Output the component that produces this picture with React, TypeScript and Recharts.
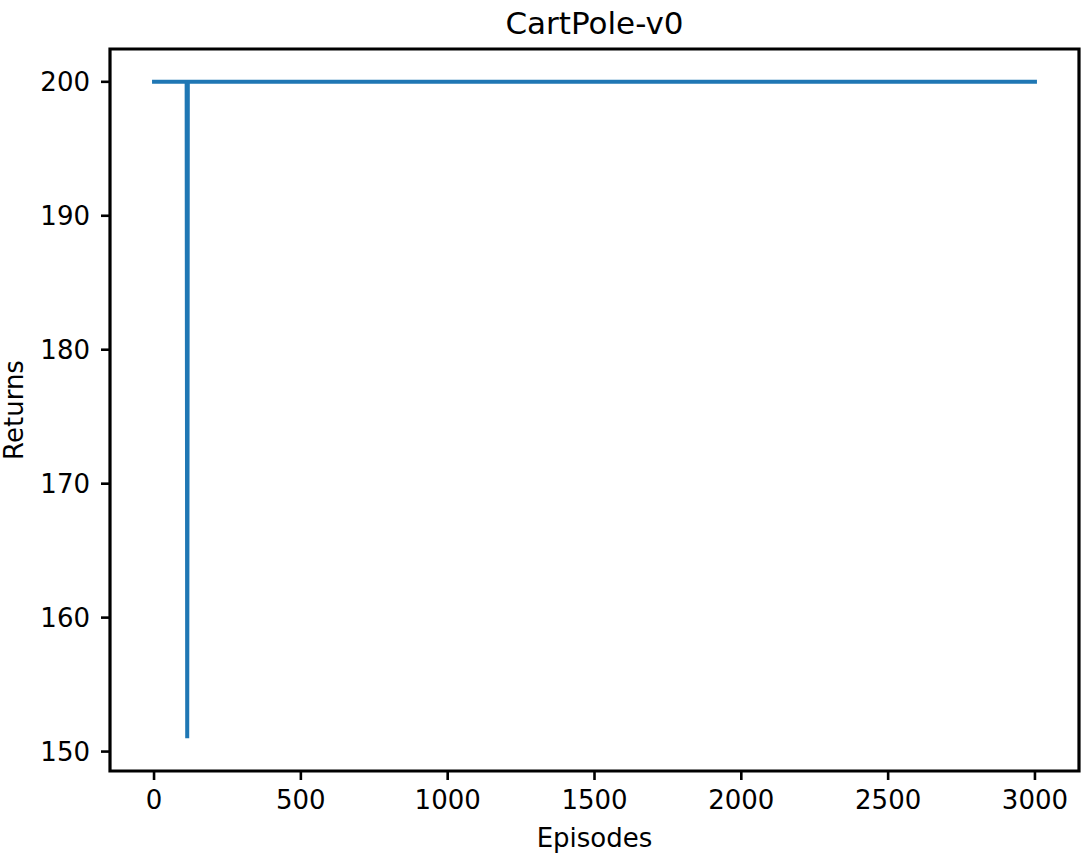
import { LineChart, Line, XAxis, YAxis, ReferenceArea } from "recharts";

const episodes = [0, 111, 112, 113, 114, 115, 3000];
const returns = [200, 200, 178.5, 151, 172.5, 200, 200];

const xTicks = [0, 500, 1000, 1500, 2000, 2500, 3000];
const yTicks = [150, 160, 170, 180, 190, 200];

const X_DOMAIN: [number, number] = [-150, 3150];
const Y_DOMAIN: [number, number] = [148.55, 202.45];

const FONT = "'DejaVu Sans', sans-serif";

const data = episodes.map((ep, i) => ({ episode: ep, value: returns[i] }));

export default function App() {
  const tickStyle = { fontSize: 26, fill: "#000", fontFamily: FONT };
  return (
    <div style={{ position: "absolute", left: 0, top: 0, width: 1090, height: 854, background: "#fff" }}>
      <LineChart
        width={1090}
        height={854}
        data={data}
        margin={{ top: 49, right: 11, left: 0, bottom: 0 }}
      >
        <XAxis
          dataKey="episode"
          type="number"
          domain={X_DOMAIN}
          ticks={xTicks}
          allowDataOverflow
          height={83}
          axisLine={false}
          tickSize={9}
          tickMargin={11}
          tickLine={{ stroke: "#000", strokeWidth: 2.6 }}
          tick={tickStyle}
        />
        <YAxis
          type="number"
          domain={Y_DOMAIN}
          ticks={yTicks}
          allowDataOverflow
          width={110}
          axisLine={false}
          tickSize={9}
          tickMargin={11}
          tickLine={{ stroke: "#000", strokeWidth: 2.6 }}
          tick={tickStyle}
        />
        <Line
          type="linear"
          dataKey="value"
          stroke="#1f77b4"
          strokeWidth={4}
          strokeLinecap="square"
          dot={false}
          activeDot={false}
          isAnimationActive={false}
        />
        <ReferenceArea
          x1={X_DOMAIN[0]}
          x2={X_DOMAIN[1]}
          y1={Y_DOMAIN[0]}
          y2={Y_DOMAIN[1]}
          fill="none"
          stroke="#000"
          strokeWidth={3.2}
          ifOverflow="visible"
        />
      </LineChart>
      <svg
        width={1090}
        height={854}
        style={{ position: "absolute", left: 0, top: 0, pointerEvents: "none", fontFamily: FONT }}
      >
        <text x={594.5} y={33.5} textAnchor="middle" fontSize={31} fill="#000">
          CartPole-v0
        </text>
        <text x={594.5} y={847} textAnchor="middle" fontSize={26} fill="#000">
          Episodes
        </text>
        <text
          x={0}
          y={0}
          transform="translate(23,410) rotate(-90)"
          textAnchor="middle"
          fontSize={26}
          fill="#000"
        >
          Returns
        </text>
      </svg>
    </div>
  );
}
